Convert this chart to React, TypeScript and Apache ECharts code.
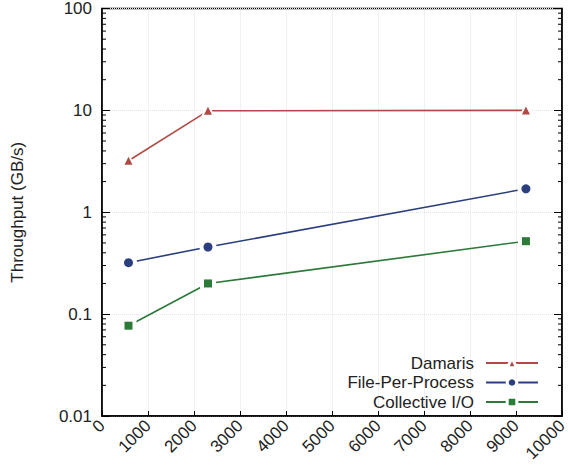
import React, { useEffect, useRef } from 'react';
import * as echarts from 'echarts';

// ---- data ----
const xValues = [576, 2304, 9216];
const damaris = [3.2, 9.9, 10.0];
const filePerProcess = [0.32, 0.456, 1.7];
const collectiveIO = [0.077, 0.2, 0.52];
const seriesNames = ['Damaris', 'File-Per-Process', 'Collective I/O'];
const seriesValues = [damaris, filePerProcess, collectiveIO];
const seriesColors = ['#b04a44', '#2b3f7e', '#2c7a38'];
const seriesSymbols = ['triangle', 'circle', 'rect'];
const seriesSymbolSizes = [8, 9, 8];
const xTickLabels = ['0', '1000', '2000', '3000', '4000', '5000', '6000', '7000', '8000', '9000', '10000'];
const yMajorTicks = [0.01, 0.1, 1, 10, 100];
const yMinorMultipliers = [2, 3, 4, 5, 6, 7, 8, 9];

const FONT = 'Liberation Sans, Arial, Helvetica, sans-serif';

export default function App() {
  const ref = useRef<HTMLDivElement>(null);

  useEffect(() => {
    if (!ref.current) return;
    const chart = echarts.init(ref.current, undefined, { renderer: 'svg' });

    const minorTicks: number[] = [];
    for (let i = 0; i < yMajorTicks.length - 1; i++) {
      for (const m of yMinorMultipliers) minorTicks.push(+(yMajorTicks[i] * m).toPrecision(3));
    }

    const pts = (vals: number[]) => vals.map((v, i) => [xValues[i], v]);

    const lineSeries = seriesNames.map((name, k) => ({
      name,
      type: 'line',
      data: pts(seriesValues[k]),
      symbol: seriesSymbols[k],
      symbolSize: seriesSymbolSizes[k],
      showSymbol: false,
      z: 2,
      lineStyle: { color: seriesColors[k], width: 1.6 },
      itemStyle: { color: seriesColors[k] },
    }));
    const haloSeries = seriesNames.map((name, k) => ({
      name: name + ' halo',
      type: 'scatter',
      data: pts(seriesValues[k]),
      symbol: seriesSymbols[k],
      symbolSize: seriesSymbolSizes[k] + 8,
      z: 3,
      silent: true,
      itemStyle: { color: '#ffffff', opacity: 1 },
    }));
    const markerSeries = seriesNames.map((name, k) => ({
      name: name + ' marker',
      type: 'scatter',
      data: pts(seriesValues[k]),
      symbol: seriesSymbols[k],
      symbolSize: seriesSymbolSizes[k],
      z: 4,
      itemStyle: { color: seriesColors[k], opacity: 1 },
    }));

    const minorTickSeries = {
      name: 'minor ticks',
      type: 'custom',
      coordinateSystem: 'cartesian2d',
      silent: true,
      z: 5,
      data: minorTicks.map((v) => [0, v]),
      renderItem: (params: any, api: any) => {
        const y = api.coord([0, api.value(1)])[1];
        const cs = params.coordSys;
        const x0 = cs.x;
        const x1 = cs.x + cs.width;
        return {
          type: 'group',
          children: [
            { type: 'line', shape: { x1: x0, y1: y, x2: x0 + 4, y2: y }, style: { stroke: '#000', lineWidth: 1 } },
            { type: 'line', shape: { x1: x1 - 4, y1: y, x2: x1, y2: y }, style: { stroke: '#000', lineWidth: 1 } },
          ],
        };
      },
    };

    const yBase = {
      type: 'log',
      logBase: 10,
      min: yMajorTicks[0],
      max: yMajorTicks[yMajorTicks.length - 1],
      axisLine: { show: true, lineStyle: { color: '#000', width: 1.5 } },
      axisTick: { show: true, inside: true, length: 8, lineStyle: { color: '#000', width: 1 } },
      minorTick: { show: false },
    };

    chart.setOption({
      animation: false,
      backgroundColor: '#ffffff',
      grid: {
        left: 102,
        right: 6,
        top: 8.5,
        bottom: 58,
        containLabel: false,
        outerBoundsMode: 'none',
        show: true,
        borderColor: '#000',
        borderWidth: 1.5,
        backgroundColor: 'transparent',
      },
      legend: {
        orient: 'vertical',
        right: 29,
        top: 354.5,
        padding: 0,
        align: 'right',
        itemWidth: 52,
        itemHeight: 12,
        itemGap: 2.5,
        data: seriesNames,
        selectedMode: false,
        itemStyle: { borderColor: '#ffffff', borderWidth: 3 },
        textStyle: { fontSize: 17, lineHeight: 17, color: '#222', fontFamily: FONT, padding: [0, 7, 0, 0] },
      },
      xAxis: {
        type: 'value',
        min: 0,
        max: 10000,
        interval: 1000,
        axisLine: { show: true, onZero: false, lineStyle: { color: '#000', width: 1.5 } },
        axisTick: { show: true, inside: true, length: 5, lineStyle: { color: '#000', width: 1 } },
        axisLabel: {
          rotate: 45,
          margin: 7,
          fontSize: 17,
          color: '#222',
          fontFamily: FONT,
          formatter: (v: number) => xTickLabels[Math.round(v / 1000)] ?? String(v),
        },
        splitLine: { show: true, lineStyle: { color: '#e2e2e2', type: 'dotted', width: 1 } },
      },
      yAxis: [
        {
          ...yBase,
          position: 'left',
          name: 'Throughput (GB/s)',
          nameLocation: 'middle',
          nameGap: 76,
          nameTextStyle: { fontSize: 17, color: '#222', fontFamily: FONT },
          axisLabel: {
            margin: 10,
            fontSize: 17,
            lineHeight: 14,
            color: '#222',
            fontFamily: FONT,
            formatter: (v: number) => String(v),
          },
          splitLine: { show: true, lineStyle: { color: '#e2e2e2', type: 'dotted', width: 1 } },
        },
        {
          ...yBase,
          position: 'right',
          axisLabel: { show: false },
          splitLine: { show: false },
        },
      ],
      series: [...lineSeries, ...haloSeries, ...markerSeries, minorTickSeries],
    });

    return () => chart.dispose();
  }, []);

  return (
    <div
      ref={ref}
      style={{ position: 'absolute', left: 0, top: 0, width: 568, height: 474, background: '#fff' }}
    />
  );
}
